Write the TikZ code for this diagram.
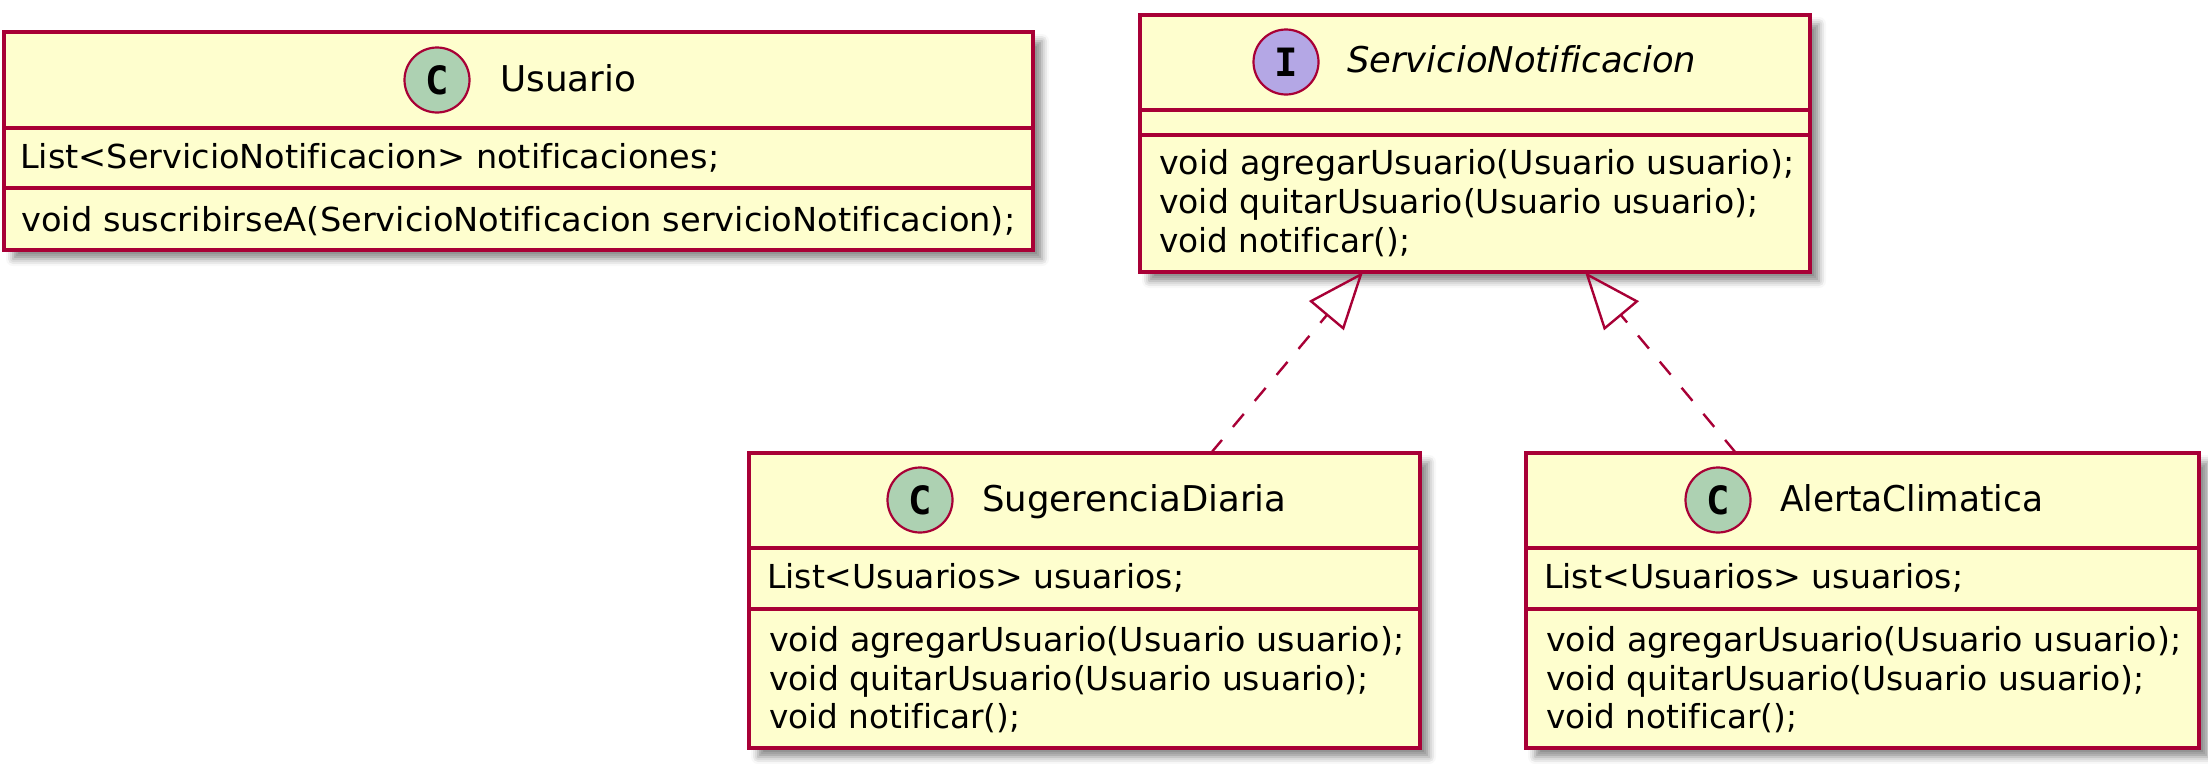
\documentclass[tikz,border=0pt]{standalone}
\usepackage{fontspec}
\usepackage{graphicx}
\setmainfont{DejaVu Sans}[Ligatures={NoCommon}]
\newfontfamily\monof{DejaVu Sans Mono}
\usetikzlibrary{arrows.meta,calc,shadows.blur}
\definecolor{boxfill}{HTML}{FEFECE}
\definecolor{umlred}{HTML}{A80036}
\definecolor{cgreen}{HTML}{ADD1B2}
\definecolor{ipurple}{HTML}{B4A7E5}
\newcommand{\fw}[2]{\resizebox{#1}{\height}{#2}}
\begin{document}
\begin{tikzpicture}[x=1pt,y=-1pt,
  umlbox/.style={draw=umlred, fill=boxfill, line width=3.2pt, anchor=north west, inner sep=0pt, outer sep=0pt,
    blur shadow={shadow xshift=9pt, shadow yshift=-9pt, shadow blur radius=7pt, shadow opacity=45}},
  divider/.style={draw=umlred, line width=3.2pt},
  badge/.style={circle, draw=umlred, line width=2.2pt, minimum size=65pt, inner sep=0pt,
    font=\monof\bfseries\fontsize{39}{39}\selectfont},
  classbadge/.style={badge, fill=cgreen},
  ifacebadge/.style={badge, fill=ipurple},
  title/.style={anchor=base west, inner sep=0pt, font=\fontsize{35.5}{40}\selectfont},
  member/.style={anchor=base west, inner sep=0pt, font=\fontsize{33}{39}\selectfont},
  impl/.style={draw=umlred, line width=2.4pt, dash pattern=on 17pt off 17pt,
    -{Triangle[open, length=57pt, width=45pt]}}
]
\useasboundingbox (0,0) rectangle (2208,763);

% Usuario
\node[umlbox, minimum width=1029pt, minimum height=218pt] (u) at (4,32) {};
\draw[divider] ($(u.north west)+(0,96)$) -- ($(u.north east)+(0,96)$);
\draw[divider] ($(u.north west)+(0,156)$) -- ($(u.north east)+(0,156)$);
\node[classbadge] (ub) at (437,80) {C};
\node[title] (ut) at (500,91) {\fw{136pt}{Usuario}};
\node[member] (ua) at (20,168) {\fw{699pt}{List<ServicioNotificacion> notificaciones;}};
\node[member] (um) at (21,231) {\fw{994pt}{void suscribirseA(ServicioNotificacion servicioNotificacion);}};

% ServicioNotificacion
\node[umlbox, minimum width=670pt, minimum height=257pt] (sn) at (1140,15) {};
\draw[divider] ($(sn.north west)+(0,95)$) -- ($(sn.north east)+(0,95)$);
\draw[divider] ($(sn.north west)+(0,120)$) -- ($(sn.north east)+(0,120)$);
\node[ifacebadge] (snb) at (1286,62) {I};
\node[title, font=\fontsize{35.5}{40}\selectfont\itshape] (snt) at (1347,72) {\fw{349pt}{ServicioNotificacion}};
\node[member] (snm1) at (1159,174) {\fw{635pt}{void agregarUsuario(Usuario usuario);}};
\node[member] (snm2) at (1159,213) {\fw{599pt}{void quitarUsuario(Usuario usuario);}};
\node[member] (snm3) at (1159,252) {\fw{251pt}{void notificar();}};

% SugerenciaDiaria
\node[umlbox, minimum width=671pt, minimum height=295pt] (sd) at (749,453) {};
\draw[divider] ($(sd.north west)+(0,95)$) -- ($(sd.north east)+(0,95)$);
\draw[divider] ($(sd.north west)+(0,156)$) -- ($(sd.north east)+(0,156)$);
\node[classbadge] (sdb) at (920,500) {C};
\node[title] (sdt) at (982,511) {\fw{304pt}{SugerenciaDiaria}};
\node[member] (sda) at (767,588) {\fw{417pt}{List<Usuarios> usuarios;}};
\node[member] (sdm1) at (769,651) {\fw{635pt}{void agregarUsuario(Usuario usuario);}};
\node[member] (sdm2) at (769,690) {\fw{599pt}{void quitarUsuario(Usuario usuario);}};
\node[member] (sdm3) at (769,728) {\fw{251pt}{void notificar();}};

% AlertaClimatica
\node[umlbox, minimum width=673pt, minimum height=295pt] (ac) at (1526,453) {};
\draw[divider] ($(ac.north west)+(0,95)$) -- ($(ac.north east)+(0,95)$);
\draw[divider] ($(ac.north west)+(0,156)$) -- ($(ac.north east)+(0,156)$);
\node[classbadge] (acb) at (1718,500) {C};
\node[title] (act) at (1780,511) {\fw{263pt}{AlertaClimatica}};
\node[member] (aca) at (1544,588) {\fw{419pt}{List<Usuarios> usuarios;}};
\node[member] (acm1) at (1546,651) {\fw{635pt}{void agregarUsuario(Usuario usuario);}};
\node[member] (acm2) at (1546,690) {\fw{598pt}{void quitarUsuario(Usuario usuario);}};
\node[member] (acm3) at (1546,728) {\fw{251pt}{void notificar();}};

% realizations
\coordinate (sdtop) at ($(sd.north west)+(462,0)$);
\coordinate (sntipl) at ($(sn.south west)+(223,0)$);
\coordinate (actop) at ($(ac.north west)+(210,0)$);
\coordinate (sntipr) at ($(sn.south west)+(445,0)$);
\draw[impl] (sdtop) -- (sntipl);
\draw[impl] (actop) -- (sntipr);
\end{tikzpicture}
\end{document}
